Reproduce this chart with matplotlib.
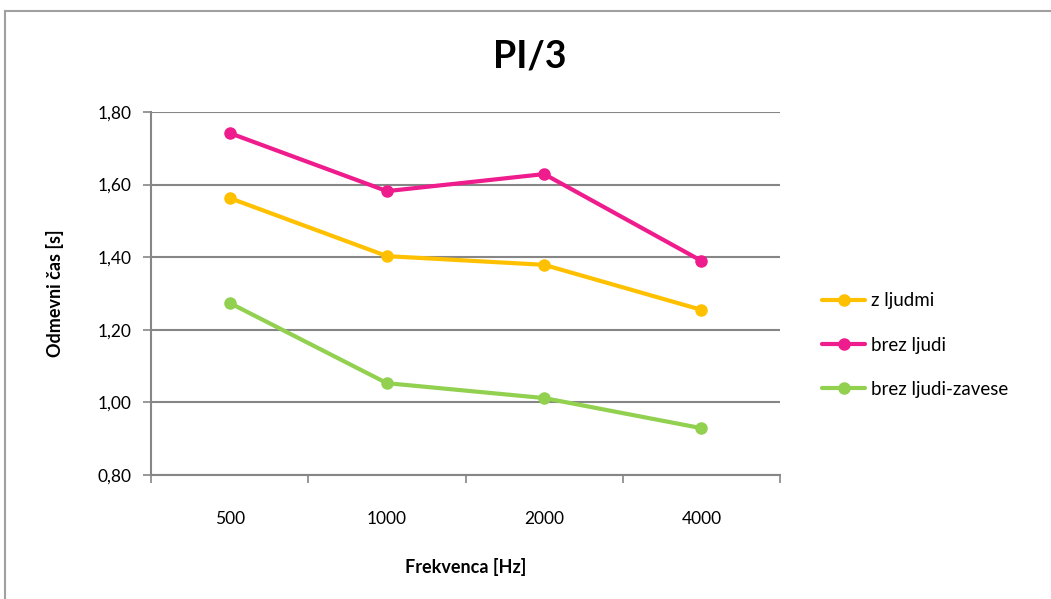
import matplotlib
matplotlib.use("Agg")
import matplotlib.pyplot as plt
from matplotlib.lines import Line2D

plt.rcParams['font.family'] = ['Lato', 'DejaVu Sans']

frequencies = ['500', '1000', '2000', '4000']
z_ljudmi = [1.563, 1.403, 1.379, 1.255]
brez_ljudi = [1.742, 1.582, 1.629, 1.390]
brez_ljudi_zavese = [1.274, 1.053, 1.012, 0.929]

series = [
    ('z ljudmi', z_ljudmi, '#FFC000'),
    ('brez ljudi', brez_ljudi, '#EE1C8C'),
    ('brez ljudi-zavese', brez_ljudi_zavese, '#92D050'),
]
y_ticks = [0.80, 1.00, 1.20, 1.40, 1.60, 1.80]

fig = plt.figure(figsize=(10.51, 5.99), dpi=100)
ax = fig.add_axes([0.1437, 0.207, 0.5985, 0.606])

x = list(range(len(frequencies)))
for name, values, color in series:
    ax.plot(x, values, color=color, linewidth=3, marker='o', markersize=8,
            label=name, solid_capstyle='round', zorder=3)

grid_color = '#868686'
ax.set_ylim(0.80, 1.80)
ax.set_xlim(-0.5, len(frequencies) - 0.5)
ax.set_yticks(y_ticks)
ax.set_yticklabels([f'{v:.2f}'.replace('.', ',') for v in y_ticks], fontsize=12.5)
ax.yaxis.grid(True, color=grid_color, linewidth=1.5)
ax.set_axisbelow(True)

ax.set_xticks(x)
ax.set_xticklabels(frequencies, fontsize=12.5)
ax.set_xticks([i - 0.5 for i in range(len(frequencies) + 1)], minor=True)
ax.tick_params(axis='x', which='major', length=0, pad=26)
ax.tick_params(axis='x', which='minor', length=6, width=1.2, color=grid_color)
ax.tick_params(axis='y', length=6, width=1.2, color=grid_color, pad=8)

for side in ['top', 'right']:
    ax.spines[side].set_visible(False)
for side in ['left', 'bottom']:
    ax.spines[side].set_color(grid_color)
    ax.spines[side].set_linewidth(1.5)

ax.set_xlabel('Frekvenca [Hz]', fontsize=13, fontweight='bold', labelpad=22)
ax.set_ylabel('Odmevni čas [s]', fontsize=13, fontweight='bold', labelpad=24)
fig.text(0.5045, 0.905, 'PI/3', fontsize=27, fontweight='bold', ha='center', va='center')

ax.legend(loc='center left', bbox_to_anchor=(1.04, 0.358), frameon=False,
          fontsize=13.5, handlelength=2.3, labelspacing=1.45, handletextpad=0.3)

# chart frame
frame = '#a0a0a0'
fig.add_artist(Line2D([5 / 1051, 1], [1 - 11 / 599, 1 - 11 / 599], color=frame, linewidth=1.5,
                      transform=fig.transFigure))
fig.add_artist(Line2D([5 / 1051, 5 / 1051], [0, 1 - 11 / 599], color=frame, linewidth=1.5,
                      transform=fig.transFigure))

fig.savefig('out.png', dpi=100)
